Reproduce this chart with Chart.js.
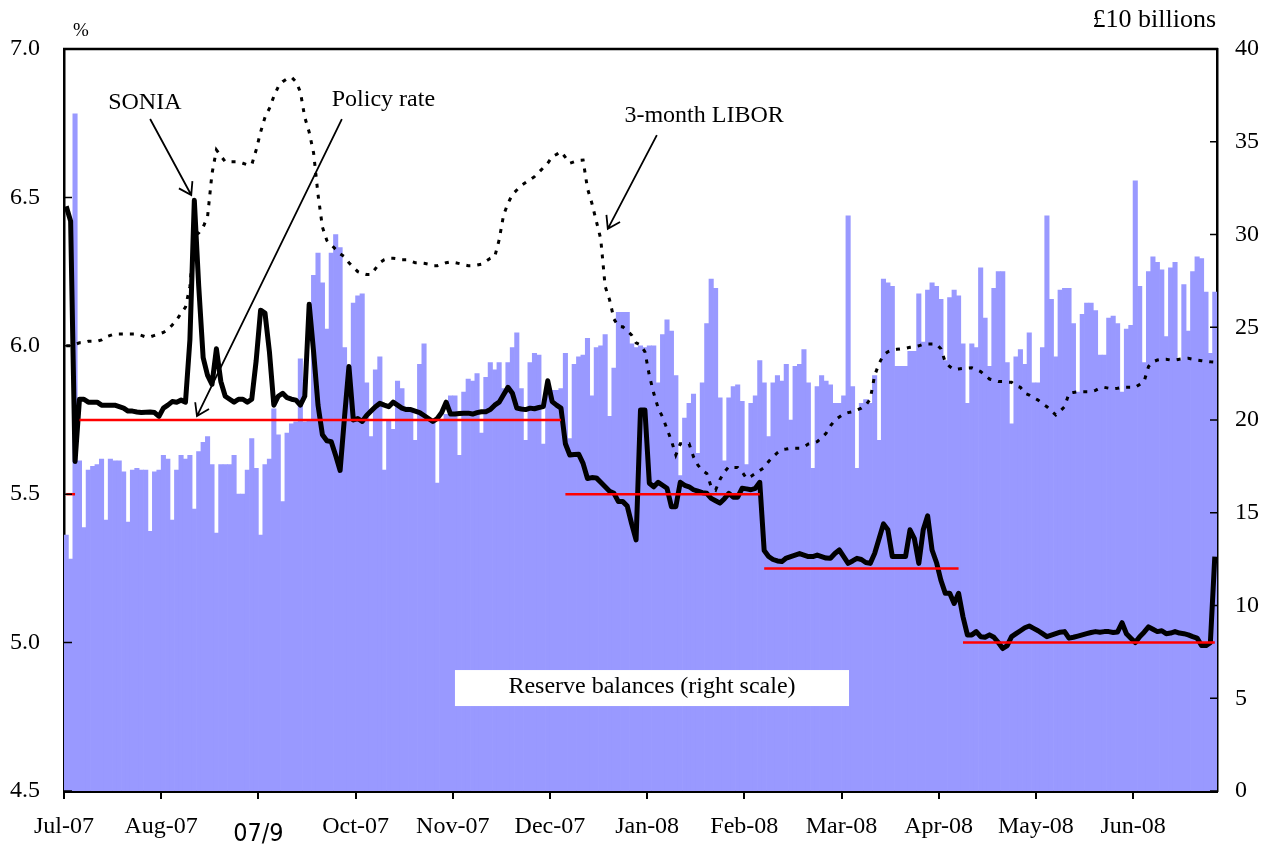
<!DOCTYPE html>
<html>
<head>
<meta charset="utf-8">
<script src="https://cdn.jsdelivr.net/npm/chart.js@4"></script>
<style>
  html, body { margin: 0; padding: 0; background: #fff; }
  #wrap { width: 1270px; height: 844px; }
</style>
</head>
<body>
<div id="wrap"><canvas id="chart" width="1270" height="844"></canvas></div>
<script>
// month labels, one every 22 trading days on the original axis
var tickLabels = ['Jul-07', 'Aug-07', '07/9', 'Oct-07', 'Nov-07', 'Dec-07',
  'Jan-08', 'Feb-08', 'Mar-08', 'Apr-08', 'May-08', 'Jun-08'];
var tickStep = 22;

// reserve balances, £10 billions (right scale), one bar per weekday
var reserves = [
  13.8, 12.5, 36.5, 17.8, 14.2, 17.3, 17.5, 17.6, 17.9, 14.6,
  17.9, 17.8, 17.8, 17.2, 14.5, 17.3, 17.4, 17.3, 17.3, 14.0,
  17.2, 17.3, 18.1, 17.9, 14.6, 17.3, 18.1, 17.9, 18.1, 15.2,
  18.3, 18.8, 19.1, 17.6, 13.9, 17.6, 17.6, 17.6, 18.1, 16.0,
  16.0, 17.3, 19.0, 17.4, 13.8, 17.6, 17.9, 20.6, 19.2, 15.6,
  19.3, 19.8, 19.9, 23.3, 19.9, 20.0, 27.8, 29.0, 27.4, 24.9,
  29.0, 30.0, 29.3, 23.9, 22.0, 26.3, 26.7, 26.8, 22.0, 19.1,
  22.7, 23.4, 17.3, 20.0, 19.5, 22.1, 21.7, 20.7, 20.5, 18.9,
  23.0, 24.1, 20.0, 20.0, 16.6, 20.0, 20.3, 21.3, 21.3, 18.1,
  21.5, 22.2, 22.1, 22.5, 19.3, 22.3, 23.1, 22.7, 23.1, 21.7,
  23.1, 23.9, 24.7, 21.7, 18.9, 23.1, 23.6, 23.5, 18.7, 21.7,
  21.6, 21.6, 21.7, 23.6, 19.0, 23.0, 23.4, 23.5, 24.4, 21.3,
  23.9, 24.0, 24.6, 20.2, 22.8, 25.8, 25.8, 25.8, 24.1, 23.9,
  24.0, 23.9, 24.0, 24.0, 22.0, 24.6, 25.4, 24.8, 22.4, 17.0,
  20.1, 20.9, 21.4, 18.2, 22.0, 25.2, 27.6, 27.1, 21.2, 17.8,
  21.2, 21.8, 21.9, 21.0, 17.6, 20.9, 21.3, 23.2, 22.0, 19.1,
  22.0, 22.4, 22.1, 23.0, 20.0, 22.9, 23.0, 23.8, 22.0, 17.4,
  21.8, 22.4, 22.1, 21.9, 20.9, 20.9, 21.3, 31.0, 21.8, 17.4,
  20.9, 21.1, 20.9, 22.4, 18.9, 27.6, 27.4, 27.2, 22.9, 22.9,
  22.9, 23.7, 23.7, 26.8, 24.2, 27.0, 27.4, 27.2, 26.5, 23.2,
  26.6, 27.0, 26.7, 24.1, 20.9, 24.1, 23.9, 28.2, 25.5, 22.9,
  27.1, 28.0, 28.0, 23.1, 19.8, 23.4, 23.8, 23.0, 24.7, 22.0,
  22.0, 23.9, 31.0, 26.5, 23.4, 27.0, 27.1, 27.1, 25.2, 21.5,
  25.7, 26.3, 26.3, 25.9, 23.5, 23.5, 25.5, 25.6, 25.2, 21.5,
  24.9, 25.1, 32.9, 27.2, 23.1, 28.0, 28.8, 28.5, 28.1, 24.5,
  28.2, 28.5, 23.2, 27.3, 24.8, 28.0, 28.8, 28.7, 26.9, 23.6,
  26.9
];

// SONIA, % (left scale)
var sonia = [
  6.47, 6.42, 5.61, 5.82, 5.82, 5.81, 5.81, 5.81, 5.80, 5.80,
  5.80, 5.80, 5.795, 5.79, 5.78, 5.78, 5.777, 5.775, 5.776, 5.777,
  5.775, 5.762, 5.79, 5.80, 5.812, 5.81, 5.817, 5.81, 6.02, 6.49,
  6.20, 5.96, 5.90, 5.87, 5.99, 5.88, 5.83, 5.82, 5.81, 5.82,
  5.82, 5.81, 5.82, 5.95, 6.12, 6.11, 5.98, 5.80, 5.83, 5.84,
  5.825, 5.82, 5.817, 5.80, 5.83, 6.14, 5.98, 5.80, 5.70, 5.68,
  5.677, 5.63, 5.58, 5.76, 5.93, 5.75, 5.755, 5.745, 5.765, 5.78,
  5.795, 5.806, 5.80, 5.795, 5.81, 5.80, 5.79, 5.785, 5.785, 5.78,
  5.775, 5.765, 5.755, 5.745, 5.755, 5.775, 5.81, 5.77, 5.77, 5.772,
  5.773, 5.773, 5.77, 5.775, 5.778, 5.778, 5.785, 5.80, 5.81, 5.835,
  5.86, 5.84, 5.79, 5.787, 5.785, 5.79, 5.788, 5.792, 5.795, 5.882,
  5.812, 5.80, 5.79, 5.67, 5.632, 5.634, 5.635, 5.604, 5.553, 5.556,
  5.555, 5.54, 5.525, 5.51, 5.503, 5.475, 5.475, 5.46, 5.40, 5.346,
  5.784, 5.784, 5.537, 5.525, 5.54, 5.53, 5.52, 5.458, 5.458, 5.54,
  5.53, 5.525, 5.515, 5.51, 5.505, 5.503, 5.486, 5.478, 5.47, 5.485,
  5.503, 5.49, 5.49, 5.52, 5.518, 5.515, 5.52, 5.54, 5.31, 5.29,
  5.28, 5.275, 5.273, 5.285, 5.29, 5.295, 5.30, 5.295, 5.29, 5.29,
  5.295, 5.29, 5.285, 5.284, 5.30, 5.312, 5.29, 5.267, 5.275, 5.284,
  5.28, 5.27, 5.267, 5.30, 5.35, 5.40, 5.38, 5.29, 5.29, 5.29,
  5.29, 5.38, 5.35, 5.267, 5.38, 5.427, 5.312, 5.27, 5.21, 5.166,
  5.166, 5.132, 5.166, 5.087, 5.026, 5.026, 5.037, 5.02, 5.018, 5.026,
  5.018, 5.0, 4.98, 4.99, 5.02, 5.03, 5.04, 5.05, 5.056, 5.048,
  5.04, 5.03, 5.02, 5.025, 5.03, 5.035, 5.037, 5.015, 5.018, 5.022,
  5.026, 5.03, 5.034, 5.037, 5.035, 5.037, 5.037, 5.034, 5.036, 5.067,
  5.03, 5.015, 5.0, 5.02, 5.035, 5.053, 5.045, 5.037, 5.04, 5.03,
  5.032, 5.037, 5.032, 5.03, 5.026, 5.02, 5.015, 4.99, 4.99, 5.0,
  5.29
];

// 3-month LIBOR, % (left scale)
var libor = [
  6.0, 6.0, 6.005, 6.01, 6.01, 6.015, 6.015, 6.015, 6.02, 6.03,
  6.035, 6.04, 6.04, 6.04, 6.04, 6.04, 6.04, 6.035, 6.03, 6.03,
  6.035, 6.04, 6.045, 6.055, 6.07, 6.087, 6.11, 6.13, 6.2, 6.37,
  6.38, 6.40, 6.435, 6.58, 6.66, 6.64, 6.62, 6.62, 6.62, 6.62,
  6.615, 6.61, 6.61, 6.66, 6.72, 6.77, 6.80, 6.84, 6.873, 6.89,
  6.90, 6.905, 6.89, 6.856, 6.77, 6.72, 6.65, 6.51, 6.40, 6.355,
  6.34, 6.325, 6.31, 6.30, 6.28, 6.265, 6.25, 6.244, 6.24, 6.24,
  6.26, 6.28, 6.29, 6.295, 6.295, 6.293, 6.29, 6.29, 6.285, 6.28,
  6.28, 6.278, 6.275, 6.27, 6.27, 6.275, 6.28, 6.283, 6.28, 6.277,
  6.273, 6.27, 6.27, 6.272, 6.275, 6.285, 6.295, 6.30, 6.357, 6.44,
  6.48, 6.51, 6.525, 6.54, 6.55, 6.56, 6.57, 6.585, 6.60, 6.615,
  6.637, 6.645, 6.654, 6.635, 6.615, 6.62, 6.625, 6.626, 6.53, 6.48,
  6.42, 6.36, 6.20, 6.155, 6.09, 6.065, 6.064, 6.05, 6.036, 6.01,
  6.003, 5.98, 5.90, 5.84, 5.79, 5.76, 5.72, 5.68, 5.632, 5.67,
  5.67, 5.67, 5.626, 5.598, 5.58, 5.57, 5.525, 5.514, 5.55, 5.575,
  5.593, 5.59, 5.59, 5.575, 5.553, 5.56, 5.57, 5.58, 5.59, 5.61,
  5.626, 5.64, 5.65, 5.652, 5.655, 5.655, 5.655, 5.66, 5.669, 5.672,
  5.677, 5.69, 5.705, 5.73, 5.75, 5.76, 5.77, 5.775, 5.778, 5.784,
  5.79, 5.80, 5.82, 5.90, 5.94, 5.969, 5.98, 5.986, 5.988, 5.99,
  5.992, 5.995, 5.997, 6.0, 6.005, 6.006, 6.006, 6.006, 5.99, 5.945,
  5.93, 5.92, 5.922, 5.924, 5.925, 5.926, 5.92, 5.913, 5.90, 5.888,
  5.884, 5.88, 5.88, 5.878, 5.877, 5.865, 5.86, 5.84, 5.834, 5.825,
  5.817, 5.805, 5.795, 5.78, 5.767, 5.78, 5.795, 5.84, 5.843, 5.845,
  5.845, 5.845, 5.845, 5.85, 5.858, 5.86, 5.857, 5.855, 5.857, 5.86,
  5.86, 5.86, 5.86, 5.87, 5.88, 5.93, 5.946, 5.952, 5.955, 5.955,
  5.952, 5.952, 5.955, 5.957, 5.958, 5.955, 5.952, 5.95, 5.948, 5.946,
  5.945
];

// Bank Rate: first and last day index of each level
var policyStart = [0, 3, 113, 158, 203];
var policyEnd = [2, 112, 157, 202, 260];
var policyRate = [5.5, 5.75, 5.5, 5.25, 5.0];

Chart.defaults.font.family = "'Liberation Serif', 'Times New Roman', serif";
Chart.defaults.color = '#000';

function byDay(values) {
  return values.map(function(v, i) { return { x: i, y: v }; });
}

var policyPoints = [];
policyRate.forEach(function(r, k) {
  policyPoints.push({ x: policyStart[k], y: r }, { x: policyEnd[k], y: r });
});

function drawArrow(ctx, x0, y0, x1, y1) {
  var ang = Math.atan2(y1 - y0, x1 - x0), len = 14, spread = 0.58;
  ctx.beginPath();
  ctx.moveTo(x0, y0);
  ctx.lineTo(x1, y1);
  ctx.moveTo(x1 - len * Math.cos(ang - spread), y1 - len * Math.sin(ang - spread));
  ctx.lineTo(x1, y1);
  ctx.lineTo(x1 - len * Math.cos(ang + spread), y1 - len * Math.sin(ang + spread));
  ctx.stroke();
}

// labels and arrows, placed in data units (day index, % on left scale)
var notes = [
  { text: 'SONIA', tx: 17.8, ty: 6.82, from: [19.0, 6.764], to: [28.3, 6.508] },
  { text: 'Policy rate', tx: 71.8, ty: 6.83, from: [62.4, 6.764], to: [29.6, 5.763] },
  { text: '3-month LIBOR', tx: 144.4, ty: 6.775, from: [133.7, 6.71], to: [122.6, 6.394] }
];

var decorations = {
  id: 'decorations',
  afterDatasetsDraw: function(chart) {
    var ctx = chart.ctx, a = chart.chartArea;
    var x = chart.scales.x, y = chart.scales.y, y2 = chart.scales.y2;
    ctx.save();

    // reserve balances label box
    var bx0 = x.getPixelForValue(88), bx1 = x.getPixelForValue(177.2);
    var by0 = y2.getPixelForValue(6.52), by1 = y2.getPixelForValue(4.58);
    ctx.fillStyle = '#fff';
    ctx.fillRect(bx0, by0, bx1 - bx0, by1 - by0);
    ctx.fillStyle = '#000';
    ctx.font = "24px 'Liberation Serif', serif";
    ctx.textAlign = 'center';
    ctx.textBaseline = 'middle';
    ctx.fillText('Reserve balances (right scale)', x.getPixelForValue(132.6), y2.getPixelForValue(5.6));

    // inward tick marks
    ctx.strokeStyle = '#000';
    ctx.lineWidth = 1.5;
    ctx.beginPath();
    y.ticks.forEach(function(t) {
      var py = y.getPixelForValue(t.value);
      ctx.moveTo(a.left, py); ctx.lineTo(a.left + 8, py);
    });
    y2.ticks.forEach(function(t) {
      var py = y2.getPixelForValue(t.value);
      ctx.moveTo(a.right, py); ctx.lineTo(a.right - 7, py);
    });
    ctx.stroke();

    // top frame line
    ctx.lineWidth = 2.5;
    ctx.beginPath();
    ctx.moveTo(a.left - 1, a.top); ctx.lineTo(a.right + 1, a.top);
    ctx.stroke();

    // annotations
    ctx.lineWidth = 1.8;
    notes.forEach(function(n) {
      ctx.fillText(n.text, x.getPixelForValue(n.tx), y.getPixelForValue(n.ty));
      drawArrow(ctx, x.getPixelForValue(n.from[0]), y.getPixelForValue(n.from[1]),
        x.getPixelForValue(n.to[0]), y.getPixelForValue(n.to[1]));
    });

    // unit labels
    ctx.font = "19px 'Liberation Serif', serif";
    ctx.fillText('%', a.left + 17, a.top - 18);
    ctx.font = "26px 'Liberation Serif', serif";
    ctx.textAlign = 'right';
    ctx.fillText('£10 billions', a.right - 1, a.top - 29);
    ctx.restore();
  }
};

var chart = new Chart(document.getElementById('chart'), {
  type: 'bar',
  data: {
    datasets: [{
      type: 'line',
      label: 'Policy rate',
      data: policyPoints,
      yAxisID: 'y',
      borderColor: '#ff0000',
      borderWidth: 2.5,
      pointRadius: 0,
      fill: false,
      segment: {
        borderColor: function(c) { return c.p0.parsed.y !== c.p1.parsed.y ? 'rgba(0,0,0,0)' : undefined; }
      }
    }, {
      type: 'line',
      label: 'SONIA',
      data: byDay(sonia),
      yAxisID: 'y',
      borderColor: '#000',
      borderWidth: 5,
      borderJoinStyle: 'round',
      pointRadius: 0,
      fill: false
    }, {
      type: 'line',
      label: '3-month LIBOR',
      data: byDay(libor),
      yAxisID: 'y',
      borderColor: '#000',
      borderWidth: 3,
      borderDash: [4, 7],
      pointRadius: 0,
      fill: false
    }, {
      type: 'bar',
      label: 'Reserve balances',
      data: byDay(reserves),
      yAxisID: 'y2',
      backgroundColor: '#9999ff',
      borderWidth: 0,
      barPercentage: 1,
      categoryPercentage: 1
    }]
  },
  options: {
    responsive: false,
    animation: false,
    devicePixelRatio: 1,
    events: [],
    layout: { padding: { top: 49, left: 0, right: 0, bottom: 0 } },
    plugins: { legend: { display: false }, tooltip: { enabled: false } },
    scales: {
      x: {
        type: 'linear',
        min: -0.5,
        max: 260.5,
        bounds: 'data',
        offset: false,
        z: 1,
        afterBuildTicks: function(s) {
          s.ticks = tickLabels.map(function(t, k) { return { value: k * tickStep - 0.5 }; });
        },
        afterFit: function(s) { s.height = 53; },
        grid: { offset: false, drawOnChartArea: false, drawTicks: true, tickLength: 8, color: '#000', lineWidth: 2 },
        border: { display: true, color: '#000', width: 3 },
        ticks: {
          autoSkip: false,
          maxRotation: 0,
          minRotation: 0,
          padding: 13,
          color: '#000',
          font: function(c) {
            if (c.index === 2) return { family: "'Liberation Sans Narrow', 'DejaVu Sans Condensed', sans-serif", size: 25, lineHeight: 1.8 };
            return { family: "'Liberation Serif', serif", size: 24 };
          },
          callback: function(v, i) { return tickLabels[i]; }
        }
      },
      y: {
        position: 'left',
        min: 4.5,
        max: 7.0,
        z: 1,
        afterFit: function(s) { s.width = 64; },
        grid: { display: false, drawTicks: false },
        border: { display: true, color: '#000', width: 2.5 },
        ticks: {
          stepSize: 0.5,
          padding: 24,
          font: { size: 24 },
          callback: function(v) { return v.toFixed(1); }
        }
      },
      y2: {
        position: 'right',
        min: 0,
        max: 40,
        z: 1,
        afterFit: function(s) { s.width = 53; },
        grid: { display: false, drawTicks: false },
        border: { display: true, color: '#000', width: 2.5 },
        ticks: {
          stepSize: 5,
          padding: 18,
          font: { size: 24 },
          callback: function(v) { return String(v); }
        }
      }
    }
  },
  plugins: [decorations]
});
</script>
</body>
</html>
